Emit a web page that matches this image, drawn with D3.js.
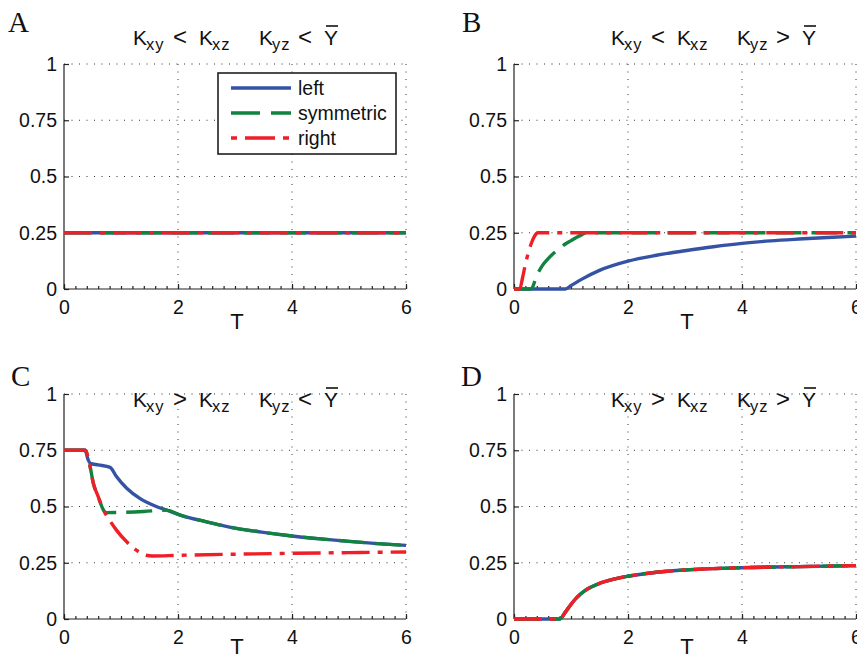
<!DOCTYPE html>
<html>
<head>
<meta charset="utf-8">
<script src="https://cdn.jsdelivr.net/npm/d3@7"></script>
<style>
  body { margin: 0; background: #fff; }
  svg { display: block; }
  text { font-family: "Liberation Sans", Arial, Helvetica, sans-serif; fill: #111; }
  .letter { font-family: "Liberation Serif", "Times New Roman", serif; font-size: 29px; }
</style>
</head>
<body>
<svg width="857" height="655"></svg>
<script>
// --- data ---
const yTicks = [0, 0.25, 0.5, 0.75, 1];
const xTicks = [0, 2, 4, 6];
const seriesNames = ["left", "symmetric", "right"];

// panel A: everything sits on 0.25
const aT = [0, 6];
const aLeft = [0.25, 0.25];
const aSym = [0.25, 0.25];
const aRight = [0.25, 0.25];

// panel B
const bLeftT = [0, 0.9, 1.0, 1.2, 1.5, 2, 2.5, 3, 3.5, 4, 4.5, 5, 5.5, 6];
const bLeft = [0, 0, 0.015, 0.045, 0.083, 0.124, 0.15, 0.17, 0.188, 0.203, 0.214, 0.222, 0.229, 0.235];
const bSymT = [0, 0.3, 0.4, 0.5, 0.6, 0.7, 0.8, 0.9, 1.0, 1.1, 1.2, 1.27, 6];
const bSym = [0, 0, 0.06, 0.105, 0.135, 0.16, 0.18, 0.2, 0.215, 0.23, 0.243, 0.25, 0.25];
const bRightT = [0, 0.1, 0.15, 0.2, 0.25, 0.3, 0.35, 0.42, 6];
const bRight = [0, 0, 0.05, 0.11, 0.16, 0.2, 0.23, 0.25, 0.25];

// panel C
const cLeftT = [0, 0.37, 0.42, 0.46, 0.6, 0.81, 0.92, 1.1, 1.33, 1.63, 1.8, 2.04, 2.5, 3, 3.5, 4, 4.5, 5, 5.5, 6];
const cLeft = [0.75, 0.75, 0.71, 0.692, 0.685, 0.674, 0.633, 0.581, 0.536, 0.499, 0.484, 0.462, 0.432, 0.404, 0.385, 0.369, 0.356, 0.345, 0.335, 0.327];
const cSymT = [0, 0.37, 0.456, 0.515, 0.6, 0.69, 0.73, 1.0, 1.4, 1.8, 2.04, 2.5, 3, 3.5, 4, 4.5, 5, 5.5, 6];
const cSym = [0.75, 0.75, 0.679, 0.603, 0.544, 0.485, 0.473, 0.474, 0.478, 0.484, 0.462, 0.432, 0.404, 0.385, 0.369, 0.356, 0.345, 0.335, 0.327];
const cRightT = [0, 0.37, 0.456, 0.515, 0.6, 0.69, 0.78, 0.92, 1.1, 1.27, 1.42, 1.55, 2, 3, 4, 5, 6];
const cRight = [0.75, 0.75, 0.679, 0.603, 0.544, 0.485, 0.447, 0.395, 0.343, 0.306, 0.284, 0.28, 0.283, 0.288, 0.292, 0.295, 0.298];

// panel D: the three curves coincide
const dT = [0, 0.8, 0.9, 1.0, 1.1, 1.25, 1.5, 1.75, 2, 2.5, 3, 3.5, 4, 5, 6];
const dVal = [0, 0, 0.03, 0.065, 0.095, 0.127, 0.158, 0.177, 0.19, 0.208, 0.218, 0.224, 0.228, 0.233, 0.237];

const panels = [
  { letter: "A", rel1: "<", rel2: "<", x0: 64, y0: 64, titleX: 133, titleY: 45, tY: 329, lx: 8, ly: 32,
    series: [[aT, aLeft], [aT, aSym], [aT, aRight]], legend: true },
  { letter: "B", rel1: "<", rel2: ">", x0: 514, y0: 64, titleX: 611, titleY: 45, tY: 329, lx: 462, ly: 32,
    series: [[bLeftT, bLeft], [bSymT, bSym], [bRightT, bRight]] },
  { letter: "C", rel1: ">", rel2: "<", x0: 64, y0: 394, titleX: 133, titleY: 407, tY: 654, lx: 11, ly: 386,
    series: [[cLeftT, cLeft], [cSymT, cSym], [cRightT, cRight]] },
  { letter: "D", rel1: ">", rel2: ">", x0: 514, y0: 394, titleX: 611, titleY: 407, tY: 654, lx: 461, ly: 386,
    series: [[dT, dVal], [dT, dVal], [dT, dVal]] }
];

// --- styling ---
const W = 342, H = 225;
const color = d3.scaleOrdinal(seriesNames, ["#3553a5", "#11833f", "#ee1f26"]);
const dash = d3.scaleOrdinal(seriesNames, [null, "26,10", "28,8,5,8"]);
const svg = d3.select("svg");

panels.forEach(p => {
  const g = svg.append("g").attr("transform", `translate(${p.x0},${p.y0})`);
  const x = d3.scaleLinear().domain([0, 6]).range([0, W]);
  const y = d3.scaleLinear().domain([0, 1]).range([H, 0]);

  // dotted grid
  g.append("g").selectAll("line").data(yTicks.filter(d => d > 0)).join("line")
    .attr("x1", 0).attr("x2", W).attr("y1", d => y(d)).attr("y2", d => y(d))
    .attr("stroke", "#333").attr("stroke-width", 1).attr("stroke-dasharray", "1,6.5");
  g.append("g").selectAll("line").data(xTicks.filter(d => d > 0)).join("line")
    .attr("y1", 0).attr("y2", H).attr("x1", d => x(d)).attr("x2", d => x(d))
    .attr("stroke", "#333").attr("stroke-width", 1).attr("stroke-dasharray", "1,6.5");

  // axes, ticks inward like matlab
  const yAx = g.append("g").call(d3.axisLeft(y).tickValues(yTicks).tickSize(-5).tickPadding(7).tickFormat(d => String(d)));
  const xMinor = g.append("g").attr("transform", `translate(0,${H})`)
    .call(d3.axisBottom(x).tickValues(d3.range(0, 6.01, 0.2)).tickSize(-3).tickFormat(""));
  xMinor.select(".domain").remove();
  const xAx = g.append("g").attr("transform", `translate(0,${H})`)
    .call(d3.axisBottom(x).tickValues(xTicks).tickSize(-5).tickPadding(11).tickFormat(d3.format("d")));
  [yAx, xAx, xMinor].forEach(a => {
    a.selectAll("path, line").attr("stroke", "#222").attr("stroke-width", 1.2);
    a.selectAll("text").style("font-size", "19.5px").attr("fill", "#111")
      .style("font-family", '"Liberation Sans", Arial, sans-serif');
  });
  yAx.select(".domain").attr("d", `M0,${H}V0`);
  xAx.select(".domain").attr("d", `M0,0H${W}`);

  // curves
  const line = d3.line().x(d => x(d[0])).y(d => y(d[1])).curve(d3.curveMonotoneX);
  p.series.forEach(([ts, vs], i) => {
    const name = seriesNames[i];
    g.append("path").datum(ts.map((t, k) => [t, vs[k]]))
      .attr("d", line).attr("fill", "none")
      .attr("stroke", color(name)).attr("stroke-width", 3.4)
      .attr("stroke-dasharray", dash(name));
  });

  // axis label
  svg.append("text").attr("x", p.x0 + 173).attr("y", p.tY).attr("text-anchor", "middle")
    .style("font-size", "22px").text("T");

  // panel letter
  svg.append("text").attr("class", "letter").attr("x", p.lx).attr("y", p.ly).text(p.letter);

  // title  K_xy ? K_xz   K_yz ? Y-bar
  const tg = svg.append("g").attr("transform", `translate(${p.titleX},${p.titleY})`);
  const pieces = [
    { t: "K", dx: 0 }, { t: "xy", dx: 13, sub: true }, { t: p.rel1, dx: 40, big: true },
    { t: "K", dx: 66 }, { t: "xz", dx: 79, sub: true },
    { t: "K", dx: 126 }, { t: "yz", dx: 139, sub: true }, { t: p.rel2, dx: 165, big: true },
    { t: "Y", dx: 191 }
  ];
  pieces.forEach(c => {
    tg.append("text").attr("x", c.dx).attr("y", c.sub ? 5 : 0)
      .style("font-size", c.sub ? "16.5px" : (c.big ? "24px" : "21px"))
      .style("letter-spacing", c.sub ? "1px" : null)
      .text(c.t);
  });
  tg.append("line").attr("x1", 193).attr("x2", 205).attr("y1", -19).attr("y2", -19)
    .attr("stroke", "#111").attr("stroke-width", 1.6);

  // legend (panel A only)
  if (p.legend) {
    const lg = svg.append("g").attr("transform", "translate(218,73)");
    lg.append("rect").attr("width", 178).attr("height", 81)
      .attr("fill", "#fff").attr("stroke", "#111").attr("stroke-width", 1.5);
    seriesNames.forEach((name, i) => {
      const yy = 15 + i * 25;
      lg.append("line").attr("x1", 13).attr("x2", 73).attr("y1", yy).attr("y2", yy)
        .attr("stroke", color(name)).attr("stroke-width", 3.4)
        .attr("stroke-dasharray", name === "right" ? "6,8,30,8,6" : (name === "symmetric" ? "29,11" : null));
      lg.append("text").attr("x", 80).attr("y", yy + 7).style("font-size", "19.5px").text(name);
    });
  }
});
</script>
</body>
</html>
